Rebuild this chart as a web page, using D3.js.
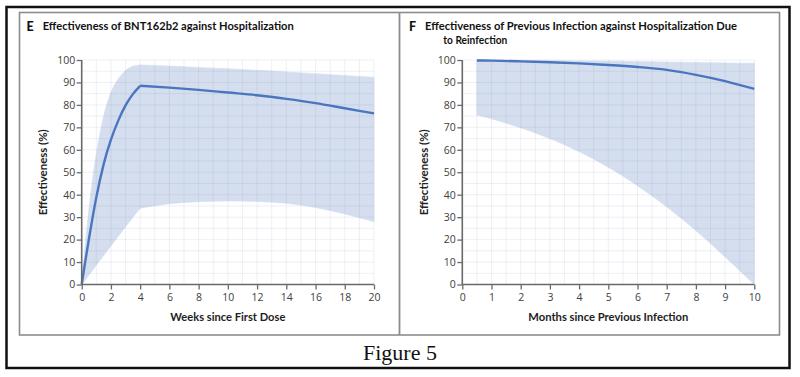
<!DOCTYPE html>
<html><head><meta charset="utf-8">
<script src="https://cdn.jsdelivr.net/npm/d3@7"></script>
<style>
html,body{margin:0;padding:0;background:#fff;}
svg{display:block;}
</style></head>
<body>
<svg id="c" width="800" height="377"></svg>
<script>
// ---------- data ----------
const weekTicks = [0,2,4,6,8,10,12,14,16,18,20];
const monthTicks = [0,1,2,3,4,5,6,7,8,9,10];
const yTicks = [0,10,20,30,40,50,60,70,80,90,100];

// Panel E: BNT162b2, rising phase (weeks 0-4)
const weeksEarly = [0, 0.25, 0.5, 0.75, 1, 1.5, 2, 2.5, 3, 3.5, 4];
const vaxEarly      = [0, 10.5, 20.5, 30, 38.8, 53.5, 64.5, 73, 79.8, 84.8, 88.5];
const vaxEarlyUpper = [0, 18, 34, 47, 58, 75, 85.5, 91.5, 95.3, 97.2, 97.8];
const vaxEarlyLower = [0, 2.1, 4.3, 6.4, 8.6, 12.9, 17.2, 21.4, 25.7, 29.9, 34];
// Panel E: waning phase (weeks 4-20)
const weeksLate = [4, 6, 8, 10, 12, 14, 16, 18, 20];
const vaxLate      = [88.5, 87.7, 86.7, 85.5, 84.3, 82.7, 80.8, 78.5, 76.2];
const vaxLateUpper = [97.8, 97.3, 96.7, 96.1, 95.4, 94.7, 93.9, 93.1, 92.3];
const vaxLateLower = [34, 36, 36.9, 37.2, 37, 36.2, 34.3, 31.4, 28];

// Panel F: previous infection
const months = [0.5, 1, 2, 3, 4, 5, 6, 7, 8, 9, 10];
const infLine  = [99.8, 99.7, 99.4, 99.0, 98.5, 97.8, 96.9, 95.6, 93.4, 90.6, 87.1];
const infUpper = [100, 100, 99.9, 99.8, 99.6, 99.5, 99.3, 99.1, 98.9, 98.7, 98.5];
const infLower = [75.5, 73.8, 69.8, 65, 59.2, 52.2, 44, 34.6, 24, 12.3, 0];

// ---------- styles ----------
const BAND = "#d4deee";
const LINE = "#4a76c0";
const AXIS = "#6a6a6a";
const TXT = "#222";
const FONT = "Lato, 'Open Sans', sans-serif";
const TICKFONT = "'Open Sans', 'Noto Sans', sans-serif";

const svg = d3.select("#c");

// outer frame
svg.append("rect").attr("x",6.5).attr("y",7).attr("width",783).attr("height",361)
  .attr("fill","none").attr("stroke","#111").attr("stroke-width",2.5);
// panel frames
svg.append("rect").attr("x",19.5).attr("y",12.5).attr("width",760).attr("height",322.5)
  .attr("fill","none").attr("stroke","#8c8c8c").attr("stroke-width",1.6);
svg.append("line").attr("x1",399.5).attr("x2",399.5).attr("y1",12.5).attr("y2",335)
  .attr("stroke","#8c8c8c").attr("stroke-width",1.8);

function fitText(sel, len){
  sel.attr("textLength", len).attr("lengthAdjust","spacingAndGlyphs");
}

function panel(opt){
  const g = svg.append("g");
  const x = d3.scaleLinear().domain(opt.xDomain).range(opt.xRange);
  const y = d3.scaleLinear().domain([0,100]).range([284.5, 60]);

  const xg = d3.range(opt.xDomain[0], opt.xDomain[1] + 1e-9, opt.xGridStep);
  const yg = d3.range(0, 100 + 1e-9, 5);

  // bands
  opt.bands.forEach(b => {
    const area = d3.area().x(d => x(d[0])).y0(d => y(d[1])).y1(d => y(d[2]))
      .curve(d3.curveMonotoneX);
    const data = b.xs.map((v,i) => [v, b.lo[i], b.hi[i]]);
    g.append("path").attr("d", area(data)).attr("fill", BAND)
      .attr("stroke", BAND).attr("stroke-width", 0.6);
  });

  // grid (drawn over the band, translucent)
  const grid = g.append("g");
  grid.selectAll(".vg").data(xg).enter().append("line")
    .attr("x1", d => x(d)).attr("x2", d => x(d)).attr("y1", y(0)).attr("y2", y(100))
    .attr("stroke","rgb(120,140,175)").attr("stroke-opacity",0.13).attr("stroke-width",1);
  grid.selectAll(".hg").data(yg).enter().append("line")
    .attr("x1", x(opt.xDomain[0])).attr("x2", x(opt.xDomain[1])).attr("y1", d => y(d)).attr("y2", d => y(d))
    .attr("stroke","rgb(120,140,175)").attr("stroke-opacity",0.13).attr("stroke-width",1);

  // lines
  opt.lines.forEach(l => {
    const line = d3.line().x(d => x(d[0])).y(d => y(d[1])).curve(d3.curveMonotoneX);
    g.append("path").attr("d", line(l.xs.map((v,i)=>[v,l.ys[i]])))
      .attr("fill","none").attr("stroke",LINE).attr("stroke-width",2.4)
      .attr("stroke-linejoin","round").attr("stroke-linecap","butt");
  });

  // axes
  const ax = g.append("g").attr("transform",`translate(0,${y(0)})`)
    .call(d3.axisBottom(x).tickValues(opt.xTicks).tickSize(5).tickPadding(4).tickFormat(d3.format("d")));
  const ay = g.append("g").attr("transform",`translate(${x(opt.xDomain[0])},0)`)
    .call(d3.axisLeft(y).tickValues(yTicks).tickSize(5).tickPadding(1.5).tickFormat(d3.format("d")));
  [ax, ay].forEach(a => {
    a.select(".domain").attr("stroke",AXIS).attr("stroke-width",1.6);
    a.selectAll(".tick line").attr("stroke",AXIS).attr("stroke-width",1.3);
    a.selectAll(".tick text").attr("fill","#404040").style("font-family",TICKFONT).style("font-size","10.5px");
  });
  ax.select(".domain").attr("d", `M${x(opt.xDomain[0])},0H${x(opt.xDomain[1])}`);
  ay.select(".domain").attr("d", `M0,${y(0)}V${y(100)}`);

  // axis titles
  const xt = g.append("text").attr("x",(opt.xRange[0]+opt.xRange[1])/2).attr("y",321)
    .attr("text-anchor","middle").attr("fill",TXT)
    .style("font-family",FONT).style("font-size","12px").style("font-weight",700)
    .text(opt.xTitle);
  fitText(xt, opt.xTitleLen);
  const yt = g.append("text").attr("transform",`translate(${opt.yTitleX},${(y(0)+y(100))/2}) rotate(-90)`)
    .attr("text-anchor","middle").attr("fill",TXT)
    .style("font-family",FONT).style("font-size","12px").style("font-weight",700)
    .text("Effectiveness (%)");
  fitText(yt, 86);

  // panel title
  g.append("text").attr("x",opt.letterX).attr("y",30.5).attr("fill","#111")
    .style("font-family",FONT).style("font-size","12.5px").style("font-weight",900)
    .text(opt.letter);
  opt.titleLines.forEach((t,i) => {
    const tt = g.append("text").attr("x",t.x).attr("y",30 + i*13.5).attr("fill","#111")
      .style("font-family",FONT).style("font-size","12px").style("font-weight",700)
      .text(t.text);
    fitText(tt, t.len);
  });
}

panel({
  xDomain:[0,20], xRange:[81.7,374], xGridStep:1, xTicks:weekTicks,
  bands:[{xs:weeksEarly, lo:vaxEarlyLower, hi:vaxEarlyUpper},{xs:weeksLate, lo:vaxLateLower, hi:vaxLateUpper}],
  lines:[{xs:weeksEarly, ys:vaxEarly},{xs:weeksLate, ys:vaxLate}],
  xTitle:"Weeks since First Dose", xTitleLen:115, yTitleX:46.5,
  letter:"E", letterX:26.5,
  titleLines:[{x:42.7, text:"Effectiveness of BNT162b2 against Hospitalization", len:251}]
});

panel({
  xDomain:[0,10], xRange:[462.3,754.3], xGridStep:0.5, xTicks:monthTicks,
  bands:[{xs:months, lo:infLower, hi:infUpper}],
  lines:[{xs:months, ys:infLine}],
  xTitle:"Months since Previous Infection", xTitleLen:160, yTitleX:427.5,
  letter:"F", letterX:409,
  titleLines:[{x:425, text:"Effectiveness of Previous Infection against Hospitalization Due", len:312},
              {x:443.3, text:"to Reinfection", len:64}]
});

// figure caption
svg.append("text").attr("x",400).attr("y",360).attr("text-anchor","middle")
  .attr("fill","#111").style("font-family","'Liberation Serif', 'DejaVu Serif', serif")
  .style("font-size","22px").text("Figure 5");
</script>
</body></html>
